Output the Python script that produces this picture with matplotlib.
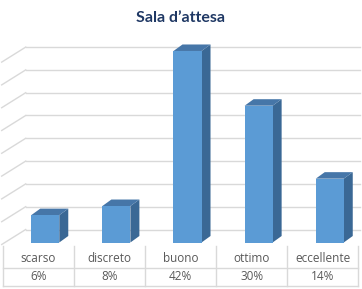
import matplotlib
matplotlib.use("Agg")
import matplotlib.pyplot as plt
from matplotlib.patches import Polygon
from matplotlib.lines import Line2D
from matplotlib.transforms import IdentityTransform, blended_transform_factory

categories = ["scarso", "discreto", "buono", "ottimo", "eccellente"]
values = [6, 8, 42, 30, 14]
labels = ["6%", "8%", "42%", "30%", "14%"]
grid_values = [0, 5, 10, 15, 20, 25, 30, 35, 40]

W, H = 362, 289
fig = plt.figure(figsize=(W / 100, H / 100), dpi=100)
plt.rcParams['font.family'] = ['Open Sans', 'DejaVu Sans']

def px(x0, y0, w, h):
    return [x0 / W, 1 - (y0 + h) / H, w / W, h / H]

scale = 4.56
ax = fig.add_axes(px(2.7, 242.5 - 45 * scale, 355.6, 45 * scale))
ax.set_xlim(-0.5, 4.5)
ax.set_ylim(0, 45)
ax.axis('off')

ident = IdentityTransform()
grid_col = '#D9D9D9'
wall_dx, wall_dy = 23, 13
bar_dx, bar_dy = 9, 6.5
bar_shift = 7
bw = 0.394

def D(x, y):
    return ax.transData.transform((x, y))

# back wall gridlines + side wall diagonals
x_left = D(-0.5, 0)[0]
for g in grid_values:
    yb = D(0, g)[1] + wall_dy
    xb = x_left + wall_dx
    fig.add_artist(Line2D([xb, 360], [yb, yb], transform=ident, color=grid_col, lw=1, zorder=1))
    fig.add_artist(Line2D([x_left - 1, xb], [yb - wall_dy - 2, yb], transform=ident, color=grid_col, lw=1, zorder=1))

front_c = '#5B9BD5'
top_c = '#4676A8'
side_c = '#3A6895'
for i, v in enumerate(values):
    l, r = i - bw / 2, i + bw / 2
    (x0, y0) = D(l, 0)
    (x1, y1) = D(r, v)
    x0 += bar_shift
    x1 += bar_shift
    front = [(x0, y0), (x1, y0), (x1, y1), (x0, y1)]
    top = [(x0, y1), (x1, y1), (x1 + bar_dx, y1 + bar_dy), (x0 + bar_dx, y1 + bar_dy)]
    side = [(x1, y0), (x1 + bar_dx, y0 + bar_dy), (x1 + bar_dx, y1 + bar_dy), (x1, y1)]
    for pts, c in [(side, side_c), (top, top_c), (front, front_c)]:
        fig.add_artist(Polygon(pts, closed=True, transform=ident, facecolor=c, edgecolor='none', zorder=3))

# data table
tab_top = H - 246.0
row_mid = H - 268.0
tab_bot = H - 286.0
xl = D(-0.5, 0)[0]
xr = D(4.5, 0)[0]
line_c = '#D9D9D9'
for yy in [row_mid, tab_bot]:
    fig.add_artist(Line2D([xl, xr], [yy, yy], transform=ident, color=line_c, lw=1))
for k in range(6):
    xx = D(k - 0.5, 0)[0]
    fig.add_artist(Line2D([xx, xx], [tab_bot, tab_top], transform=ident, color=line_c, lw=1))

tr = blended_transform_factory(ax.transData, ident)
for i, (c, lab) in enumerate(zip(categories, labels)):
    ax.text(i, H - 258.5, c, transform=tr, ha='center', va='center', fontsize=8.5, color='#595959', clip_on=False)
    ax.text(i, H - 276.5, lab, transform=tr, ha='center', va='center', fontsize=8.5, color='#595959', clip_on=False)

fig.text(0.5, 1 - 18 / H, 'Sala d\u2019attesa', ha='center', va='center', fontsize=11.5,
         fontweight='bold', color='#1F3864', family=['Lato', 'DejaVu Sans'])

fig.savefig('out.png', dpi=100, facecolor='white')
